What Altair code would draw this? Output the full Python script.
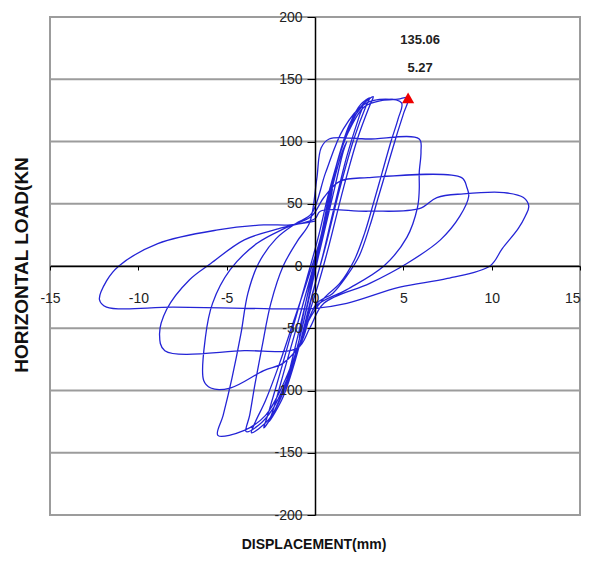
import altair as alt
import pandas as pd

# Hysteresis path (displacement mm, load kN) in loading order
disp = [
    0.0, 0.4, 0.8, 1.0, 0.8, 0.35, 0.0, -0.35, -0.7, -0.9, -0.7, -0.25, 0.1,
    0.5, 1.1, 1.5, 1.8, 1.6, 1.1, 0.5, 0.1, -0.4, -1.0, -1.5, -1.8, -1.6, -1.0, -0.4, 0.1,
    0.6, 1.3, 2.0, 2.7, 2.5, 1.8, 1.0, 0.4, -0.2, -1.0, -1.8, -2.6, -2.4, -1.7, -0.9, -0.2, 0.4,
    1.1, 2.0, 2.6, 3.1, 2.9, 2.2, 1.4, 0.6, 0.0, -0.8, -1.8, -2.5, -2.9, -2.7, -2.0, -1.2, -0.5, 0.2,
    0.8, 1.7, 2.6, 3.3, 3.1, 2.4, 1.6, 0.8, 0.2, -0.6, -1.6, -2.6, -3.6, -3.4, -2.8, -2.0, -1.2, -0.4, 0.3,
    1.0, 1.9, 2.8, 3.8, 4.7, 5.27, 5.0, 4.6, 4.1, 3.6, 3.1, 2.5, 1.8, 1.0, 0.1, -0.8, -1.8, -2.8, -4.0, -5.5,
    -5.2, -4.7, -4.2, -3.8, -3.2, -2.2, -1.1, -0.2,
    0.6, 1.6, 2.8, 4.0, 4.9, 4.7, 4.3, 3.8, 3.3, 2.8, 2.2, 1.4, 0.5, -0.4, -1.4, -2.4, -3.2, -3.9,
    -3.7, -3.4, -3.0, -2.5, -1.8, -1.0, -0.3,
    0.1, 0.35, 0.8, 3.0, 5.9, 6.0, 5.9, 5.9, 5.8, 5.2, 3.9, 1.8, 0.0, -0.8, -1.8, -2.9, -4.8, -5.9, -6.3,
    -6.2, -5.8, -4.8, -3.3, -1.6, -0.2,
    0.5, 1.4, 3.0, 8.3, 8.6, 8.7, 8.2, 7.1, 5.2, 3.1, 0.5, -0.3, -1.0, -4.0, -8.5, -8.8,
    -8.4, -7.1, -5.9, -4.0, -1.8, 0.0,
    0.3, 3.0, 5.9, 6.9, 8.4, 10.7, 11.8, 12.1, 11.9, 11.5, 10.6, 9.9, 7.5, 4.8, 1.8, 0.0,
    -4.0, -8.0, -11.8, -12.2, -11.8, -11.1, -8.9, -5.5, -2.9, -1.4, 0.0,
]
load = [
    0, 22, 48, 62, 52, 22, 4, -18, -42, -58, -48, -18, 4,
    35, 70, 90, 100, 92, 62, 26, 2, -30, -65, -88, -100, -92, -58, -22, 6,
    40, 85, 115, 128, 120, 88, 42, 6, -25, -70, -105, -125, -117, -82, -42, -6, 25,
    75, 115, 130, 135, 129, 102, 62, 16, -15, -60, -100, -122, -130, -121, -87, -47, -12, 24,
    60, 102, 128, 136, 129, 102, 62, 17, -14, -50, -95, -123, -134, -126, -108, -78, -44, -10, 22,
    70, 108, 128, 133, 134, 135.06, 122, 104, 80, 56, 32, 8, -8, -22, -30, -60, -95, -120, -132, -136,
    -120, -90, -55, -22, 2, 22, 34, 42,
    75, 110, 130, 134, 131, 118, 100, 75, 50, 26, 4, -14, -26, -45, -85, -115, -128, -133,
    -120, -95, -65, -30, 0, 20, 35,
    70, 95, 102, 102, 102, 92, 75, 61, 47, 23, 0, -19, -33, -62, -78, -84, -98, -98, -92,
    -57, -30, -3, 18, 31, 40,
    55, 68, 71, 71, 63, 56, 40, 21, 2, -14, -30, -50, -66, -68, -68, -55,
    -35, -11, 2, 21, 31, 38,
    44, 44, 46, 55, 58, 59, 55, 48, 40, 30, 14, 0, -10, -17, -30, -34,
    -34, -33, -33, -27, -12, 0, 18, 29, 33, 33, 36,
]

x_ticks = [-15, -10, -5, 0, 5, 10, 15]
y_ticks = [-200, -150, -100, -50, 0, 50, 100, 150, 200]
peak_disp = [5.27]
peak_load = [135.06]

W, H = 530, 498
LABEL_FONT = "Liberation Sans"
TITLE_FONT = "Liberation Sans Narrow, Liberation Sans, Arial"

df = pd.DataFrame({"disp": disp, "load": load, "step": list(range(len(disp)))})
xs = alt.Scale(domain=[-15, 15], nice=False, zero=False)
ys = alt.Scale(domain=[-200, 200], nice=False, zero=False)

AX = alt.Axis(
    values=x_ticks, orient="bottom", offset=-H / 2, title=None, grid=False,
    domainColor="black", domainWidth=1.5, tickColor="black", tickSize=4,
    labelPadding=21, labelFontSize=14, labelFont=LABEL_FONT, labelColor="#222222",
    labelExpr="'' + datum.value",
    labelAlign=alt.ExprRef(expr="datum.value >= 15 ? 'right' : 'center'"),
    labelFlush=False, labelOverlap=False, zindex=1)
AY = alt.Axis(
    values=y_ticks, orient="left", offset=-W / 2, title=None, grid=False,
    domainColor="black", domainWidth=1.5, tickColor="black", tickSize=8,
    labelPadding=5, labelFontSize=14, labelFont=LABEL_FONT, labelColor="#222222",
    labelExpr="'' + datum.value",
    labelFlush=False, labelOverlap=False, zindex=1)

grid = alt.Chart(pd.DataFrame({"v": y_ticks})).mark_rule(
    color="#9c9c9c", strokeWidth=2
).encode(
    y=alt.Y("v:Q", scale=ys, axis=AY),
    x=alt.value(0),
    x2=alt.value(W),
)

line = alt.Chart(df).mark_line(
    color="#2424d6", strokeWidth=1.3, interpolate="catmull-rom"
).encode(
    x=alt.X("disp:Q", scale=xs, axis=AX),
    y=alt.Y("load:Q", scale=ys, axis=AY),
    order="step:Q",
)

peak = pd.DataFrame({
    "disp": peak_disp, "load": peak_load,
    "lab1": [f"{v:.2f}" for v in peak_load],
    "lab2": [f"{v:.2f}" for v in peak_disp],
})
px = alt.X("disp:Q", scale=xs, axis=AX)
py = alt.Y("load:Q", scale=ys, axis=AY)

marker = alt.Chart(peak).mark_point(
    shape="triangle-up", filled=True, color="#ee0000", size=150, opacity=1
).encode(x=px, y=py)

lab1 = alt.Chart(peak).mark_text(
    dx=12, dy=-58, fontWeight="bold", fontSize=13, font=TITLE_FONT, color="#222222"
).encode(x=px, y=py, text="lab1:N")
lab2 = alt.Chart(peak).mark_text(
    dx=12, dy=-30, fontWeight="bold", fontSize=13, font=TITLE_FONT, color="#222222"
).encode(x=px, y=py, text="lab2:N")

xtitle = alt.Chart(pd.DataFrame({"t": ["DISPLACEMENT(mm)"]})).mark_text(
    fontWeight="bold", fontSize=14, font=TITLE_FONT, color="#111111", baseline="middle"
).encode(x=alt.value(264), y=alt.value(528), text="t:N")

ytitle = alt.Chart(pd.DataFrame({"t": ["HORIZONTAL LOAD(KN"]})).mark_text(
    fontWeight="bold", fontSize=19, font=LABEL_FONT, color="#111111", baseline="middle", angle=270
).encode(x=alt.value(-28), y=alt.value(248), text="t:N")

chart = alt.layer(grid, line, marker, lab1, lab2, xtitle, ytitle).properties(
    width=W, height=H,
    autosize=alt.AutoSizeParams(type="none"),
    padding={"left": 42, "top": 9, "right": 3, "bottom": 38},
    background="white",
).configure_view(stroke="#9c9c9c", strokeWidth=2)

chart.save("out.html", embed_options={"renderer": "svg", "actions": False})
